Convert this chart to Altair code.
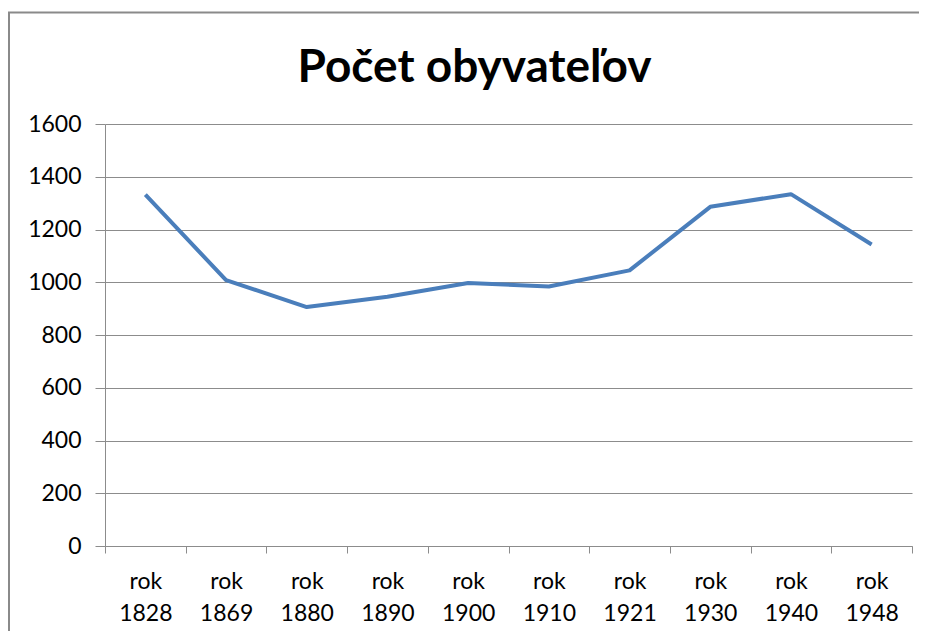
import altair as alt
import pandas as pd

categories = ["rok 1828", "rok 1869", "rok 1880", "rok 1890", "rok 1900",
              "rok 1910", "rok 1921", "rok 1930", "rok 1940", "rok 1948"]
population = [1332, 1008, 906, 945, 997, 984, 1045, 1286, 1334, 1143]
y_ticks = [0, 200, 400, 600, 800, 1000, 1200, 1400, 1600]

df = pd.DataFrame({"rok": categories, "obyv": population})

FONT = "Lato"
GRID = "#8c8c8c"

line = alt.Chart(df).mark_line(color="#4a7ebb", strokeWidth=4, strokeJoin="round").encode(
    x=alt.X("rok:N", sort=categories, bandPosition=0.5,
            scale=alt.Scale(type="band", paddingInner=0, paddingOuter=0),
            axis=alt.Axis(title=None, labelAngle=0, tickBand="extent", grid=False,
                          domainColor=GRID, tickColor=GRID, tickSize=7,
                          labelFont=FONT, labelFontSize=23, labelColor="#000",
                          labelPadding=17, labelLineHeight=32,
                          labelExpr="split(datum.label, ' ')")),
    y=alt.Y("obyv:Q", scale=alt.Scale(domain=[0, 1600], nice=False),
            axis=alt.Axis(title=None, values=y_ticks, grid=True, gridColor=GRID,
                          format="d",
                          domainColor=GRID, tickColor=GRID, tickSize=10,
                          labelFont=FONT, labelFontSize=23, labelColor="#000",
                          labelPadding=14)),
)

frame = alt.Chart(pd.DataFrame({"a": [0]})).mark_rect(
    fill=None, stroke="#8a8a8a", strokeWidth=2, clip=False
).encode(x=alt.value(-96), x2=alt.value(1000), y=alt.value(-111.5), y2=alt.value(700))

chart = alt.layer(frame, line).properties(
    width=807, height=422,
    padding={"left": 97, "top": 116, "right": 7, "bottom": 85},
    autosize=alt.AutoSizeParams(type="none"),
    title=alt.TitleParams("Počet obyvateľov", font=FONT, fontSize=46, fontWeight="bold",
                          color="#000", anchor="middle", dx=-34, offset=-116.5,
                          baseline="alphabetic"),
).configure_view(stroke=None)

chart.save("out.html", embed_options={"renderer": "svg", "actions": False})
